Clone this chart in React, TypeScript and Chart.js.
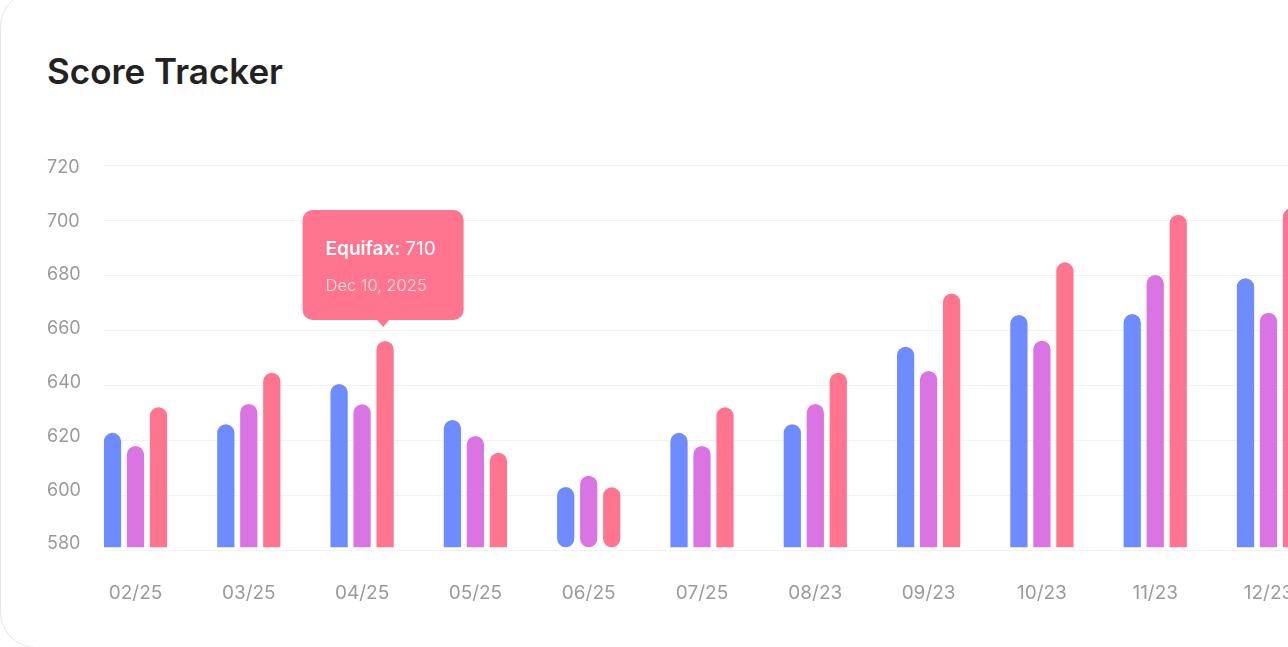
import React, { useEffect, useRef } from 'react';
import { Chart, registerables } from 'chart.js';

Chart.register(...registerables);

// ---- data ----
const MONTHS = ['02/25', '03/25', '04/25', '05/25', '06/25', '07/25', '08/23', '09/23', '10/23', '11/23', '12/23'];
const TRANSUNION = [622.6, 625.7, 640.4, 627.3, 602.9, 622.6, 625.7, 653.9, 665.5, 665.8, 678.8];
const EXPERIAN = [617.8, 633.1, 633.0, 621.5, 607.0, 617.8, 633.1, 645.1, 656.1, 680.0, 666.3];
const EQUIFAX = [631.9, 644.5, 656.0, 615.4, 602.8, 631.9, 644.5, 673.3, 684.6, 701.9, 704.3];
const SERIES_NAMES = ['TransUnion', 'Experian', 'Equifax'];
const SERIES_COLORS = ['#6E8CFF', '#DB74E3', '#FF7590'];
const Y_TICKS = [580, 600, 620, 640, 660, 680, 700, 720];
const BAR_BASE = 581;
const ROUNDED_BOTH_ENDS = [4];

// static tooltip content
const TIP_DATASET = 2;
const TIP_INDEX = 2;
const TIP_SERIES = 'Equifax';
const TIP_VALUE = '710';
const TIP_DATE = 'Dec 10, 2025';

// visible window of the x axis (category index units)
const X_MIN = -0.278;
const X_MAX = 10.172;
// label axis range (labels sit slightly off the grid lines in the reference)
const LABEL_MIN = 577.8;
const LABEL_MAX = 720.9;

const FONT = 'Inter, "Noto Sans", sans-serif';

const staticTooltip = {
  id: 'staticTooltip',
  afterDraw(chart: any) {
    const el = chart.getDatasetMeta(TIP_DATASET).data[TIP_INDEX];
    if (!el) return;
    const ctx = chart.ctx;
    const w = 161;
    const h = 110;
    const cx = el.x - 2;
    const bottom = el.y - 21;
    const left = cx - w / 2;
    const top = bottom - h;
    ctx.save();
    ctx.fillStyle = SERIES_COLORS[TIP_DATASET];
    ctx.beginPath();
    ctx.roundRect(left, top, w, h, 10);
    ctx.fill();
    ctx.beginPath();
    ctx.moveTo(cx - 7, bottom - 1);
    ctx.lineTo(cx, bottom + 7);
    ctx.lineTo(cx + 7, bottom - 1);
    ctx.closePath();
    ctx.fill();
    ctx.textBaseline = 'alphabetic';
    ctx.textAlign = 'left';
    ctx.fillStyle = '#ffffff';
    ctx.font = `600 19px ${FONT}`;
    const label = `${TIP_SERIES}: `;
    ctx.fillText(label, left + 23, top + 45);
    const lw = ctx.measureText(label).width;
    ctx.font = `400 19px ${FONT}`;
    ctx.fillText(TIP_VALUE, left + 23 + lw, top + 45);
    ctx.font = `300 16.5px ${FONT}`;
    ctx.fillStyle = 'rgba(255,255,255,0.78)';
    ctx.fillText(TIP_DATE, left + 23, top + 81);
    ctx.restore();
  },
};

export default function App() {
  const ref = useRef<HTMLCanvasElement | null>(null);

  useEffect(() => {
    if (!ref.current) return;
    const seriesValues = [TRANSUNION, EXPERIAN, EQUIFAX];
    const chart = new Chart(ref.current, {
      type: 'bar',
      data: {
        datasets: seriesValues.map((vals, s) => ({
          label: SERIES_NAMES[s],
          data: vals.map((v, i) => ({ x: i, y: v })),
          backgroundColor: SERIES_COLORS[s],
          borderWidth: 0,
          borderRadius: 20,
          borderSkipped: (c: any) => (ROUNDED_BOTH_ENDS.includes(c.dataIndex) ? false : 'start'),
          base: BAR_BASE,
          categoryPercentage: 0.609,
          barPercentage: 0.75,
          xAxisID: 'x',
          yAxisID: 'y',
        })),
      },
      options: {
        responsive: false,
        animation: false,
        events: [],
        layout: { padding: { top: 45, left: 47, right: 0, bottom: 30 } },
        plugins: {
          legend: { display: false },
          tooltip: { enabled: false },
        },
        scales: {
          x: {
            type: 'linear',
            position: 'bottom',
            offset: false,
            min: X_MIN,
            max: X_MAX,
            grid: { display: false, drawTicks: false, offset: false },
            border: { display: false },
            afterBuildTicks: (scale: any) => {
              scale.ticks = MONTHS.map((_, i) => ({ value: i }));
            },
            afterFit: (scale: any) => {
              scale.height = 60;
              scale.paddingLeft = 0;
              scale.paddingRight = 0;
            },
            ticks: {
              autoSkip: false,
              maxRotation: 0,
              padding: 32,
              color: '#9a9a9a',
              font: { family: FONT, size: 19 },
              callback: (v: any) => MONTHS[v] ?? '',
            },
          },
          yl: {
            type: 'linear',
            position: 'left',
            min: LABEL_MIN,
            max: LABEL_MAX,
            grid: { display: false, drawTicks: false },
            border: { display: false },
            afterBuildTicks: (scale: any) => {
              scale.ticks = Y_TICKS.map((v) => ({ value: v }));
            },
            afterFit: (scale: any) => {
              scale.width = 57;
            },
            ticks: {
              crossAlign: 'far',
              color: '#9a9a9a',
              font: { family: FONT, size: 18 },
            },
          },
          y: {
            type: 'linear',
            position: 'left',
            min: Y_TICKS[0],
            max: Y_TICKS[Y_TICKS.length - 1],
            grid: { color: '#f2f2f2', lineWidth: 1, drawTicks: false },
            border: { display: false },
            afterBuildTicks: (scale: any) => {
              scale.ticks = Y_TICKS.map((v) => ({ value: v }));
            },
            afterFit: (scale: any) => {
              scale.width = 0;
            },
            ticks: { display: false },
          },
        },
      },
      plugins: [staticTooltip],
    } as any);
    return () => chart.destroy();
  }, []);

  return (
    <div
      style={{
        position: 'absolute',
        left: 0,
        top: 0,
        width: 1288,
        height: 647,
        overflow: 'hidden',
        background: '#ffffff',
      }}
    >
      <div
        style={{
          position: 'absolute',
          left: 0,
          top: -9,
          width: 1400,
          height: 657,
          borderRadius: 36,
          border: '1px solid #e6e6e6',
          boxSizing: 'border-box',
          background: '#ffffff',
        }}
      />
      <div
        style={{
          position: 'absolute',
          left: 47,
          top: 54,
          fontFamily: FONT,
          fontWeight: 600,
          fontSize: 35,
          lineHeight: '35px',
          color: '#222222',
          whiteSpace: 'nowrap',
        }}
      >
        Score Tracker
      </div>
      <canvas
        ref={ref}
        width={1288}
        height={520}
        style={{ position: 'absolute', left: 0, top: 120, width: 1288, height: 520 }}
      />
    </div>
  );
}
